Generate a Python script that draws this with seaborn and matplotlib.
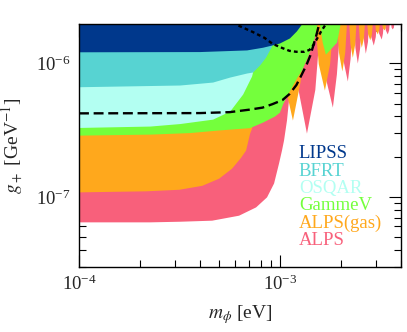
import matplotlib
matplotlib.use("Agg")
import matplotlib.pyplot as plt
from matplotlib.ticker import LogLocator, NullFormatter
import seaborn as sns

# ---------- limites (m em eV, g em GeV^-1) ----------
# 2.2e-6 marca onde a curva sai pelo topo do grafico
m_lipss = [1.0e-4, 3.99e-4, 6.82e-4, 8.19e-4, 9.08e-4, 9.94e-4, 1.115e-3, 1.207e-3, 1.279e-3, 1.308e-3, 4.0e-3]
g_lipss = [1.22e-6, 1.225e-6, 1.26e-6, 1.32e-6, 1.37e-6, 1.42e-6, 1.55e-6, 1.75e-6, 1.97e-6, 2.2e-6, 2.2e-6]

m_bfrt = [1.0e-4, 3.17e-4, 4.62e-4, 5.62e-4, 6.82e-4, 7.30e-4, 7.91e-4, 8.47e-4, 8.97e-4, 9.39e-4, 9.94e-4, 1.029e-3, 4.0e-3]
g_bfrt = [6.68e-7, 6.88e-7, 7.24e-7, 7.89e-7, 8.46e-7, 8.61e-7, 9.71e-7, 1.11e-6, 1.30e-6, 1.50e-6, 1.84e-6, 2.2e-6, 2.2e-6]

m_osqar = [1.0e-4, 2.25e-4, 3.17e-4, 4.62e-4, 5.62e-4, 6.52e-4, 7.22e-4, 7.56e-4, 7.73e-4, 7.91e-4, 8.00e-4, 8.09e-4, 4.0e-3]
g_osqar = [3.31e-7, 3.39e-7, 3.54e-7, 3.82e-7, 4.39e-7, 5.89e-7, 8.03e-7, 1.06e-6, 1.37e-6, 1.78e-6, 1.97e-6, 2.2e-6, 2.2e-6]

m_gammev = [1.0e-4, 2.25e-4, 3.55e-4, 4.84e-4, 7.06e-4, 8.19e-4, 9.39e-4, 9.94e-4, 1.029e-3, 1.077e-3,
            1.140e-3, 1.207e-3, 1.279e-3, 1.354e-3, 1.433e-3, 1.484e-3, 1.518e-3, 1.536e-3,
            1.553e-3, 1.622e-3, 1.682e-3, 1.911e-3, 2.020e-3, 4.0e-3]
g_gammev = [2.90e-7, 2.95e-7, 3.03e-7, 3.16e-7, 3.30e-7, 3.63e-7, 4.03e-7, 4.31e-7, 4.95e-7, 5.69e-7,
            6.64e-7, 7.76e-7, 8.91e-7, 1.077e-6, 1.32e-6, 1.57e-6, 1.87e-6, 2.2e-6,
            2.2e-6, 1.44e-6, 1.17e-6, 1.44e-6, 2.2e-6, 2.2e-6]

m_alps_gas = [1.0e-4, 2.15e-4, 3.14e-4, 4.08e-4, 4.95e-4, 5.74e-4, 6.37e-4, 6.74e-4, 7.06e-4, 7.22e-4,
              7.47e-4, 7.73e-4, 7.91e-4, 8.09e-4,
              9.83e-4, 1.046e-3, 1.153e-3, 1.258e-3, 1.338e-3,
              1.484e-3, 1.550e-3, 1.663e-3, 1.765e-3, 1.843e-3,
              1.908e-3, 1.954e-3, 2.031e-3, 2.099e-3, 2.150e-3,
              2.188e-3, 2.228e-3, 2.290e-3, 2.353e-3, 2.397e-3,
              2.438e-3, 2.478e-3, 2.538e-3, 2.600e-3, 2.642e-3,
              2.687e-3, 2.727e-3, 2.797e-3, 2.851e-3, 2.894e-3,
              2.944e-3, 2.982e-3, 3.047e-3, 3.096e-3, 3.137e-3,
              3.189e-3, 3.226e-3, 3.300e-3, 3.338e-3, 3.377e-3, 4.0e-3]
g_alps_gas = [1.09e-7, 1.11e-7, 1.14e-7, 1.22e-7, 1.38e-7, 1.64e-7, 1.98e-7, 2.24e-7, 3.00e-7, 3.27e-7,
              4.47e-7, 7.49e-7, 1.50e-6, 2.2e-6,
              2.2e-6, 7.29e-7, 3.76e-7, 7.29e-7, 2.2e-6,
              2.2e-6, 9.95e-7, 6.31e-7, 9.95e-7, 2.2e-6,
              2.2e-6, 1.211e-6, 8.76e-7, 1.211e-6, 2.2e-6,
              2.2e-6, 1.40e-6, 1.11e-6, 1.40e-6, 2.2e-6,
              2.2e-6, 1.553e-6, 1.32e-6, 1.553e-6, 2.2e-6,
              2.2e-6, 1.67e-6, 1.50e-6, 1.67e-6, 2.2e-6,
              2.2e-6, 1.78e-6, 1.66e-6, 1.78e-6, 2.2e-6,
              2.2e-6, 1.852e-6, 1.78e-6, 1.852e-6, 2.2e-6, 2.2e-6]

m_alps = [1.0e-4, 2.25e-4, 3.17e-4, 4.57e-4, 6.22e-4, 7.56e-4, 8.57e-4, 9.29e-4, 9.83e-4, 1.017e-3,
          1.041e-3, 1.077e-3, 1.102e-3, 1.127e-3, 1.153e-3,
          1.229e-3, 1.354e-3, 1.490e-3, 1.589e-3,
          1.663e-3, 1.822e-3, 1.908e-3, 1.997e-3,
          2.020e-3, 2.048e-3, 2.163e-3, 2.233e-3, 2.290e-3,
          2.317e-3, 2.359e-3, 2.425e-3, 2.492e-3, 2.538e-3,
          2.567e-3, 2.606e-3, 2.657e-3, 2.724e-3, 2.765e-3,
          2.781e-3, 2.829e-3, 2.911e-3, 2.978e-3, 3.029e-3,
          3.047e-3, 3.094e-3, 3.189e-3, 3.234e-3, 3.281e-3,
          3.300e-3, 3.342e-3, 3.416e-3, 3.471e-3, 3.515e-3,
          3.535e-3, 3.568e-3, 3.617e-3, 3.667e-3, 3.701e-3, 4.0e-3]
g_alps = [6.50e-8, 6.50e-8, 6.57e-8, 6.69e-8, 7.29e-8, 8.41e-8, 1.00e-7, 1.27e-7, 1.79e-7, 2.24e-7,
          2.66e-7, 3.76e-7, 5.31e-7, 1.06e-6, 2.2e-6,
          6.37e-7, 3.00e-7, 6.37e-7, 2.2e-6,
          8.34e-7, 4.70e-7, 8.34e-7, 2.2e-6,
          2.2e-6, 1.092e-6, 7.37e-7, 1.092e-6, 2.2e-6,
          2.2e-6, 1.316e-6, 1.005e-6, 1.316e-6, 2.2e-6,
          2.2e-6, 1.459e-6, 1.19e-6, 1.459e-6, 2.2e-6,
          2.2e-6, 1.585e-6, 1.37e-6, 1.585e-6, 2.2e-6,
          2.2e-6, 1.687e-6, 1.52e-6, 1.687e-6, 2.2e-6,
          2.2e-6, 1.78e-6, 1.66e-6, 1.78e-6, 2.2e-6,
          2.2e-6, 1.87e-6, 1.81e-6, 1.87e-6, 2.2e-6, 2.2e-6]

# curvas tracejadas
m_dash_long = [1.0e-4, 3.99e-4, 5.62e-4, 7.06e-4, 8.19e-4, 9.18e-4, 1.029e-3, 1.115e-3, 1.207e-3,
               1.279e-3, 1.354e-3, 1.417e-3, 1.467e-3, 1.518e-3, 1.553e-3, 1.589e-3]
g_dash_long = [4.22e-7, 4.24e-7, 4.31e-7, 4.50e-7, 4.66e-7, 4.95e-7, 5.31e-7, 5.89e-7, 6.88e-7,
               8.17e-7, 9.71e-7, 1.15e-6, 1.37e-6, 1.63e-6, 1.87e-6, 2.11e-6]

m_dash_short = [5.81e-4, 6.30e-4, 7.30e-4, 8.38e-4, 9.18e-4, 1.029e-3, 1.115e-3, 1.207e-3, 1.323e-3,
                1.401e-3, 1.467e-3, 1.536e-3, 1.607e-3, 1.682e-3, 1.761e-3]
g_dash_short = [2.04e-6, 1.90e-6, 1.72e-6, 1.55e-6, 1.40e-6, 1.30e-6, 1.24e-6, 1.22e-6, 1.22e-6,
                1.26e-6, 1.37e-6, 1.55e-6, 1.75e-6, 1.94e-6, 2.11e-6]

labels = ["LIPSS", "BFRT", "OSQAR", "GammeV", "ALPS(gas)", "ALPS"]
colors = ["#00388C", "#57D3D2", "#B3FFF2", "#74FF3C", "#FFA81C", "#F8607B"]

G_TOP = 2.2e-6

# ---------- estilo ----------
sns.set_style("ticks")
plt.rcParams["font.family"] = ["Liberation Serif", "DejaVu Serif"]
plt.rcParams["mathtext.fontset"] = "stix"

fig = plt.figure(figsize=(4.07, 3.32), dpi=100)
ax = fig.add_axes([0.1941, 0.1967, 0.7912, 0.7310])

# de baixo para cima: ALPS primeiro, LIPSS por cima
curvas = [(m_lipss, g_lipss), (m_bfrt, g_bfrt), (m_osqar, g_osqar),
          (m_gammev, g_gammev), (m_alps_gas, g_alps_gas), (m_alps, g_alps)]
for (m, g), c in reversed(list(zip(curvas, colors))):
    ax.fill_between(m, g, G_TOP, color=c, linewidth=0)

sns.lineplot(x=m_dash_long, y=g_dash_long, ax=ax, color="black", lw=1.7,
             linestyle=(0, (4.2, 2.0)), sort=False)
sns.lineplot(x=m_dash_short, y=g_dash_short, ax=ax, color="black", lw=1.7,
             linestyle=(0, (1.6, 1.3)), sort=False)

ax.set_xscale("log")
ax.set_yscale("log")
ax.set_xlim(1e-4, 4.0e-3)
ax.set_ylim(3.0e-8, 1.97e-6)

ax.xaxis.set_minor_locator(LogLocator(base=10, subs=range(2, 10), numticks=20))
ax.yaxis.set_minor_locator(LogLocator(base=10, subs=range(2, 10), numticks=20))
ax.xaxis.set_minor_formatter(NullFormatter())
ax.yaxis.set_minor_formatter(NullFormatter())

ax.tick_params(which="both", direction="in", top=True, right=True, width=0.8, color="black")
ax.tick_params(which="major", length=9, labelsize=13.5, pad=6)
ax.tick_params(which="minor", length=4.8)
for s in ax.spines.values():
    s.set_linewidth(1.0)
    s.set_color("black")
    s.set_zorder(5)

ax.set_xlabel(r"$m_\phi$ [eV]", fontsize=14, labelpad=6)
ax.set_ylabel(r"$g_+$ [GeV$^{-1}$]", fontsize=14, labelpad=8)

# legenda em texto colorido
for i, (lab, c) in enumerate(zip(labels, colors)):
    ax.text(0.683, 0.4467 - 0.0713 * i, lab, color=c, fontsize=13.5,
            transform=ax.transAxes, ha="left", va="baseline")

plt.savefig("out.png", dpi=100)
plt.close()
